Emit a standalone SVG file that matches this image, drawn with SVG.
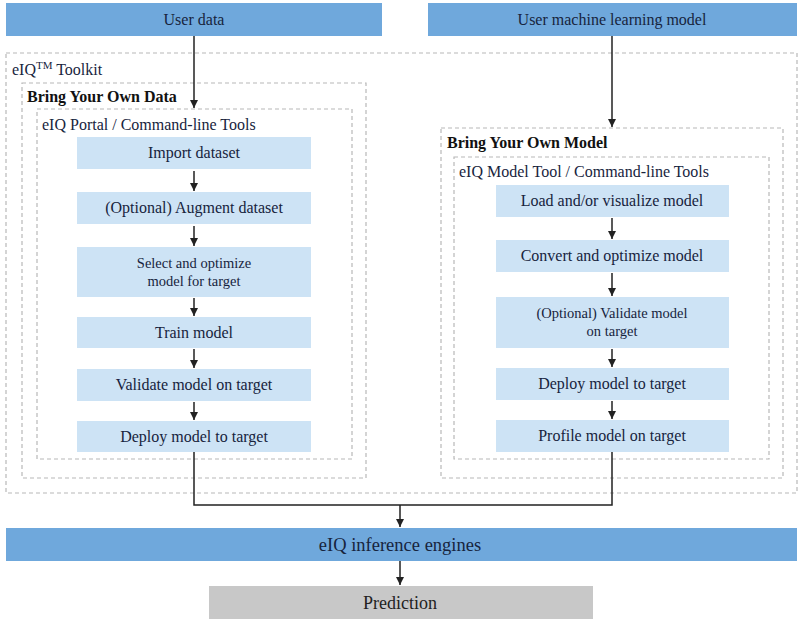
<svg xmlns="http://www.w3.org/2000/svg" width="800" height="622" viewBox="0 0 800 622">
<defs>
<marker id="arr" markerUnits="userSpaceOnUse" markerWidth="9" markerHeight="9" refX="8" refY="4.5" orient="auto">
<path d="M0,0.5 L8,4.5 L0,8.5 z" fill="#222"/>
</marker>
<style>
text{font-family:"Liberation Serif","Times New Roman",serif;fill:#17243d}
.top{fill:#6fa8dc}
.step{fill:#cde3f5}
.pred{fill:#c8c8c8}
.dash{fill:none;stroke:#b8b8b8;stroke-width:1.2;stroke-dasharray:4 3}
.t15{font-size:16px;text-anchor:middle}
.t14{font-size:14.5px;text-anchor:middle}
.hdr{font-size:16px}
.bold{font-size:16px;font-weight:bold;fill:#111}
.con{fill:none;stroke:#222;stroke-width:1.5}
</style>
</defs>
<rect width="800" height="622" fill="#fff"/>

<g id="containers">
<rect class="dash" x="6" y="53" width="791" height="440"/>
<text x="12" y="75" class="hdr">eIQ<tspan font-size="11" dy="-6">TM</tspan><tspan dy="6"> Toolkit</tspan></text>
<rect class="dash" x="22" y="83" width="344" height="395"/>
<text x="27" y="102" class="bold">Bring Your Own Data</text>
<rect class="dash" x="37" y="109" width="315" height="350"/>
<text x="42" y="130" class="hdr">eIQ Portal / Command-line Tools</text>
<rect class="dash" x="441" y="128" width="342" height="350"/>
<text x="447" y="148" class="bold">Bring Your Own Model</text>
<rect class="dash" x="454" y="157" width="315" height="302"/>
<text x="459" y="177" class="hdr">eIQ Model Tool / Command-line Tools</text>
</g>

<g id="user-data"><rect class="top" x="6" y="3" width="376" height="33"/><text class="t15" x="194" y="25">User data</text></g>
<g id="user-model"><rect class="top" x="428" y="3" width="369" height="33"/><text class="t15" x="612" y="25">User machine learning model</text></g>

<g id="import"><rect class="step" x="77" y="137" width="234" height="32"/><text class="t15" x="194" y="158">Import dataset</text></g>
<g id="augment"><rect class="step" x="77" y="192" width="234" height="32"/><text class="t15" x="194" y="213">(Optional) Augment dataset</text></g>
<g id="select"><rect class="step" x="77" y="247" width="234" height="50"/><text class="t14" x="194" y="268">Select and optimize</text><text class="t14" x="194" y="286">model for target</text></g>
<g id="train"><rect class="step" x="77" y="317" width="234" height="31"/><text class="t15" x="194" y="338">Train model</text></g>
<g id="validate"><rect class="step" x="77" y="369" width="234" height="32"/><text class="t15" x="194" y="390">Validate model on target</text></g>
<g id="deploy-l"><rect class="step" x="77" y="421" width="234" height="31"/><text class="t15" x="194" y="442">Deploy model to target</text></g>

<g id="load"><rect class="step" x="496" y="185" width="233" height="32"/><text class="t15" x="612" y="206">Load and/or visualize model</text></g>
<g id="convert"><rect class="step" x="496" y="240" width="233" height="32"/><text class="t15" x="612" y="261">Convert and optimize model</text></g>
<g id="opt-validate"><rect class="step" x="496" y="297" width="233" height="51"/><text class="t14" x="612" y="318">(Optional) Validate model</text><text class="t14" x="612" y="336">on target</text></g>
<g id="deploy-r"><rect class="step" x="496" y="368" width="233" height="32"/><text class="t15" x="612" y="389">Deploy model to target</text></g>
<g id="profile"><rect class="step" x="496" y="420" width="233" height="32"/><text class="t15" x="612" y="441">Profile model on target</text></g>

<g id="inference"><rect class="top" x="6" y="528" width="791" height="33"/><text x="400" y="551" font-size="18.5" text-anchor="middle">eIQ inference engines</text></g>
<g id="prediction"><rect class="pred" x="209" y="586" width="384" height="33"/><text x="400" y="609" font-size="18" text-anchor="middle" style="fill:#222">Prediction</text></g>

<g id="connectors">
<path class="con" d="M194,36 V108" marker-end="url(#arr)"/>
<path class="con" d="M612,36 V127" marker-end="url(#arr)"/>
<path class="con" d="M194,171 V191" marker-end="url(#arr)"/>
<path class="con" d="M194,226 V246" marker-end="url(#arr)"/>
<path class="con" d="M194,298 V316" marker-end="url(#arr)"/>
<path class="con" d="M194,349 V368" marker-end="url(#arr)"/>
<path class="con" d="M194,402 V420" marker-end="url(#arr)"/>
<path class="con" d="M612,218 V239" marker-end="url(#arr)"/>
<path class="con" d="M612,273 V296" marker-end="url(#arr)"/>
<path class="con" d="M612,349 V367" marker-end="url(#arr)"/>
<path class="con" d="M612,401 V419" marker-end="url(#arr)"/>
<path class="con" d="M194,452 V505 H612 V452"/>
<path class="con" d="M400,505 V527" marker-end="url(#arr)"/>
<path class="con" d="M400,561 V585" marker-end="url(#arr)"/>
</g>
</svg>
